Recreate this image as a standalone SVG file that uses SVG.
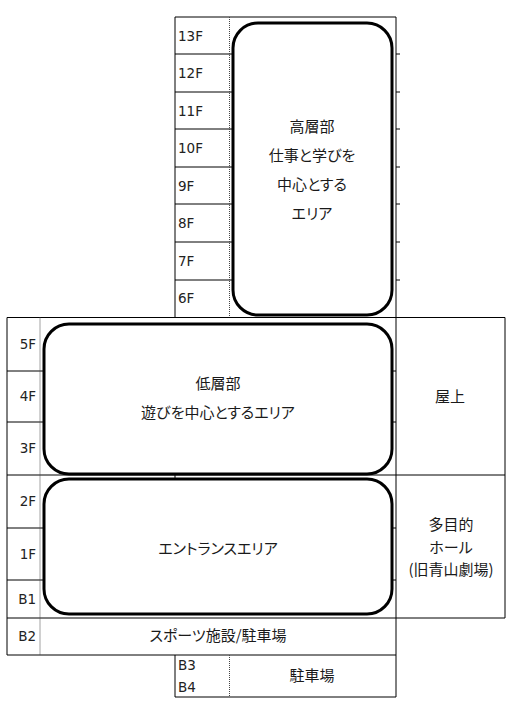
<svg xmlns="http://www.w3.org/2000/svg" width="511" height="705" viewBox="0 0 511 705">
<style>
.ln{stroke:#000;stroke-width:1;fill:none}
.dot{stroke:#444;stroke-width:1;stroke-dasharray:1,1;fill:none}
.zone{fill:#fff;stroke:#000;stroke-width:3}
.fl{font-family:"DejaVu Sans","Noto Sans CJK JP",sans-serif;font-size:13.5px;fill:#222}
.t{font-family:"Noto Sans CJK JP","Noto Sans",sans-serif;font-size:15px;fill:#1a1a1a;text-anchor:middle;font-feature-settings:"palt"}
</style>
<rect width="511" height="705" fill="#fff"/>
<g id="grid">
<path class="ln" d="M175,17H396M175,17V317.5M396,17V697M7,317.5H505M7,317.5V655M505,317.5V618M7,475H505M7,618H505M7,655H396M175,655V697M175,697H396"/>
<path class="ln" d="M175,54H233M175,92H233M175,129H233M175,167H233M175,204H233M175,242H233M175,280H233"/>
<path class="ln" d="M396,54H400M396,92H400M396,129H400M396,167H400M396,204H400M396,242H400M396,280H400"/>
<path class="ln" d="M7,371H44M7,422H44M7,528H44M7,580H44M392,371H396M392,422H396M392,528H396M392,580H396M175,472V478"/>
<path class="dot" d="M229.5,17V317M40,317.5V655M229.5,655V697"/>
</g>
<g id="floor-labels">
<text class="fl" x="178" y="41">13F</text>
<text class="fl" x="178" y="78">12F</text>
<text class="fl" x="178" y="116">11F</text>
<text class="fl" x="178" y="153">10F</text>
<text class="fl" x="178" y="191">9F</text>
<text class="fl" x="178" y="228">8F</text>
<text class="fl" x="178" y="266">7F</text>
<text class="fl" x="178" y="303">6F</text>
<text class="fl" x="36" y="349" text-anchor="end">5F</text>
<text class="fl" x="36" y="401" text-anchor="end">4F</text>
<text class="fl" x="36" y="453" text-anchor="end">3F</text>
<text class="fl" x="36" y="506" text-anchor="end">2F</text>
<text class="fl" x="36" y="559" text-anchor="end">1F</text>
<text class="fl" x="36" y="604" text-anchor="end">B1</text>
<text class="fl" x="36" y="641" text-anchor="end">B2</text>
<text class="fl" x="178" y="670">B3</text>
<text class="fl" x="178" y="692">B4</text>
</g>
<g id="high-rise">
<rect class="zone" x="233" y="23" width="159" height="292" rx="25"/>
<text class="t" x="312" y="132">高層部</text>
<text class="t" x="312" y="161">仕事と学びを</text>
<text class="t" x="312" y="190">中心とする</text>
<text class="t" x="312" y="219">エリア</text>
</g>
<g id="low-rise">
<rect class="zone" x="44" y="324" width="348" height="150" rx="25"/>
<text class="t" x="218" y="389">低層部</text>
<text class="t" x="218" y="418">遊びを中心とするエリア</text>
</g>
<g id="entrance">
<rect class="zone" x="44" y="479" width="348" height="135" rx="25"/>
<text class="t" x="218" y="554">エントランスエリア</text>
</g>
<g id="rooftop">
<text class="t" x="450" y="402">屋上</text>
</g>
<g id="hall">
<text class="t" x="451" y="530">多目的</text>
<text class="t" x="451" y="553">ホール</text>
<text class="t" x="451" y="575">(旧青山劇場)</text>
</g>
<g id="sports">
<text class="t" x="218" y="641">スポーツ施設/駐車場</text>
</g>
<g id="parking">
<text class="t" x="312" y="681">駐車場</text>
</g>
<g id="connectors"></g>
</svg>
